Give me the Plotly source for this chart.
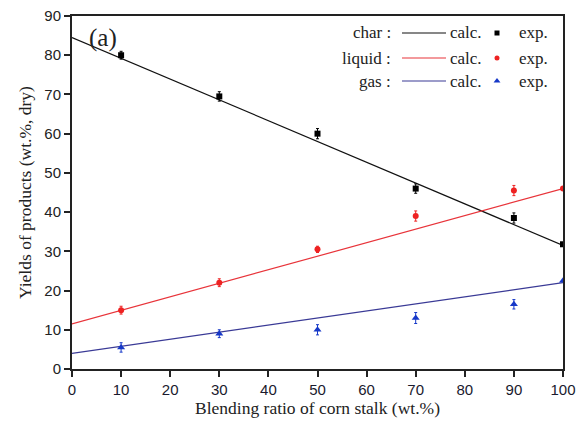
import plotly.graph_objects as go

ratio = [10, 30, 50, 70, 90, 100]
char_exp = [80.0, 69.5, 60.0, 46.0, 38.5, 31.8]
liquid_exp = [15.0, 22.0, 30.5, 39.0, 45.5, 46.0]
gas_exp = [5.5, 9.0, 10.0, 13.0, 16.5, 22.5]
err_char = [1.0, 1.2, 1.3, 1.2, 1.3, 0]
err_liquid = [1.0, 1.0, 0.8, 1.3, 1.3, 0]
err_gas = [1.2, 1.0, 1.3, 1.4, 1.2, 0]

calc_x = [0, 100]
char_calc = [84.5, 31.5]
liquid_calc = [11.5, 46.0]
gas_calc = [4.0, 22.0]

x_ticks = [0, 10, 20, 30, 40, 50, 60, 70, 80, 90, 100]
y_ticks = [0, 10, 20, 30, 40, 50, 60, 70, 80, 90]

fig = go.Figure()
fig.add_trace(go.Scatter(x=calc_x, y=char_calc, mode="lines", line=dict(color="#111111", width=1.2), showlegend=False))
fig.add_trace(go.Scatter(x=calc_x, y=liquid_calc, mode="lines", line=dict(color="#e8343a", width=1.2), showlegend=False))
fig.add_trace(go.Scatter(x=calc_x, y=gas_calc, mode="lines", line=dict(color="#3a3a96", width=1.2), showlegend=False))

fig.add_trace(go.Scatter(x=ratio, y=char_exp, mode="markers",
                         marker=dict(symbol="square", size=6, color="#000000"),
                         error_y=dict(type="data", array=err_char, color="#000000", thickness=1, width=1.5),
                         showlegend=False))
fig.add_trace(go.Scatter(x=ratio, y=liquid_exp, mode="markers",
                         marker=dict(symbol="circle", size=6, color="#ee2222"),
                         error_y=dict(type="data", array=err_liquid, color="#ee2222", thickness=1, width=1.5),
                         showlegend=False))
fig.add_trace(go.Scatter(x=ratio, y=gas_exp, mode="markers",
                         marker=dict(symbol="triangle-up", size=7, color="#1638c8"),
                         error_y=dict(type="data", array=err_gas, color="#1638c8", thickness=1, width=1.5),
                         showlegend=False))

L, R, T, B = 72, 563, 16, 369
W, H = R - L, B - T

def px(x):
    return (x - L) / W

def py(y):
    return (B - y) / H

serif = "Liberation Serif, Times New Roman, serif"
sans = "Liberation Sans, Arial, sans-serif"

annotations = []
shapes = []
rows = [("char :", "#111111", "#000000", "square", 33),
        ("liquid :", "#e8343a", "#ee2222", "circle", 58),
        ("gas :", "#3a3a96", "#1638c8", "triangle-up", 81)]
for lab, lc, mc, sym, yy in rows:
    annotations.append(dict(x=px(393), y=py(yy), xref="paper", yref="paper", text=lab,
                            showarrow=False, xanchor="right", yanchor="middle",
                            font=dict(family=serif, size=17, color="#222")))
    shapes.append(dict(type="line", xref="paper", yref="paper", x0=px(402), x1=px(446),
                       y0=py(yy), y1=py(yy), line=dict(color=lc, width=1.2)))
    annotations.append(dict(x=px(448), y=py(yy), xref="paper", yref="paper", text="calc.",
                            showarrow=False, xanchor="left", yanchor="middle",
                            font=dict(family=serif, size=17, color="#222")))
    annotations.append(dict(x=px(517), y=py(yy), xref="paper", yref="paper", text="exp.",
                            showarrow=False, xanchor="left", yanchor="middle",
                            font=dict(family=serif, size=17, color="#222")))

leg_x = [(497 - L) / W * 100] * 3
leg_y = [(B - r[4]) / H * 90 for r in rows]
for (lab, lc, mc, sym, yy), lx, ly in zip(rows, leg_x, leg_y):
    fig.add_trace(go.Scatter(x=[lx], y=[ly], mode="markers",
                             marker=dict(symbol=sym, size=5 if sym != "triangle-up" else 6, color=mc),
                             showlegend=False))

annotations.append(dict(x=px(87), y=py(38), xref="paper", yref="paper", text="(a)",
                        showarrow=False, xanchor="left", yanchor="middle",
                        font=dict(family=serif, size=25, color="#222")))

fig.update_layout(
    width=577, height=421,
    margin=dict(l=L, r=577 - R, t=T, b=421 - B),
    paper_bgcolor="white", plot_bgcolor="white",
    showlegend=False,
    annotations=annotations, shapes=shapes,
    xaxis=dict(range=[0, 100], tickvals=x_ticks, ticks="outside", ticklen=6, tickwidth=1.5,
               tickcolor="#222", showline=True, linecolor="#222", linewidth=2, mirror=True,
               showgrid=False, zeroline=False, automargin=False,
               tickfont=dict(family=sans, size=15, color="#1a1a2e"),
               title=dict(text="Blending ratio of corn stalk (wt.%)", standoff=2,
                          font=dict(family=serif, size=17.5, color="#222"))),
    yaxis=dict(range=[0, 90], tickvals=y_ticks, ticks="outside", ticklen=6, tickwidth=1.5,
               tickcolor="#222", showline=True, linecolor="#222", linewidth=2, mirror=True,
               showgrid=False, zeroline=False, automargin=False,
               tickfont=dict(family=sans, size=15, color="#222"),
               title=dict(text="Yields of products (wt.%, dry)", standoff=8,
                          font=dict(family=serif, size=17.5, color="#222"))),
)

fig.write_html("out.html")
